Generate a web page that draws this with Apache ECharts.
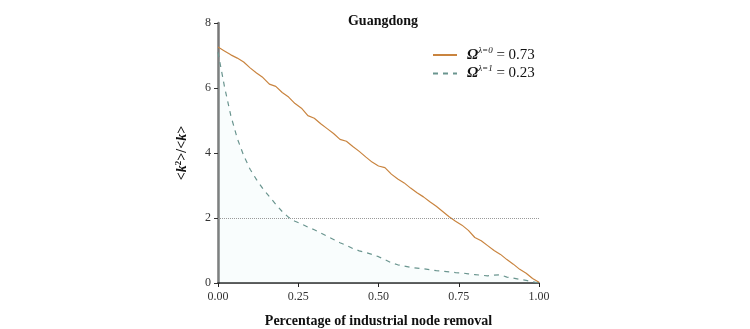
<!DOCTYPE html>
<html><head><meta charset="utf-8">
<script src="https://cdn.jsdelivr.net/npm/echarts@6/dist/echarts.min.js"></script>
<style>html,body{margin:0;padding:0;background:#fff}#c{width:750px;height:329px}</style>
</head><body><div id="c"></div>
<script>
const removalFraction = [0,0.02,0.04,0.06,0.08,0.10,0.12,0.14,0.16,0.18,0.20,0.22,0.24,0.26,0.28,0.30,0.32,0.34,0.36,0.38,0.40,0.42,0.44,0.46,0.48,0.50,0.52,0.54,0.56,0.58,0.60,0.62,0.64,0.66,0.68,0.70,0.72,0.74,0.76,0.78,0.80,0.82,0.84,0.86,0.88,0.90,0.92,0.94,0.96,0.98,1.00];
const lambda0Values = [7.26,7.14,7.02,6.92,6.80,6.62,6.46,6.32,6.12,6.05,5.86,5.72,5.52,5.38,5.15,5.07,4.90,4.75,4.60,4.42,4.36,4.20,4.05,3.88,3.72,3.60,3.55,3.35,3.20,3.08,2.92,2.78,2.65,2.50,2.36,2.20,2.04,1.90,1.78,1.62,1.40,1.30,1.15,1.00,0.88,0.72,0.58,0.42,0.30,0.14,0.02];
const lambda1Values = [7.10,6.05,5.15,4.45,3.92,3.50,3.18,2.90,2.66,2.42,2.20,2.02,1.90,1.82,1.72,1.64,1.54,1.44,1.34,1.24,1.16,1.06,0.99,0.94,0.88,0.81,0.72,0.62,0.56,0.52,0.48,0.46,0.44,0.41,0.38,0.36,0.34,0.32,0.31,0.28,0.26,0.24,0.22,0.24,0.25,0.18,0.15,0.11,0.08,0.04,0.00];
const xTicks = [0, 0.25, 0.5, 0.75, 1.0];
const yTicks = [0, 2, 4, 6, 8];
const threshold = 2;
const seriesNames = ['lambda0', 'lambda1'];
const omegaValues = ['0.73', '0.23'];
const lambdaLabels = ['λ=0', 'λ=1'];

const serif = 'Liberation Serif, Times New Roman, serif';
const chart = echarts.init(document.getElementById('c'));
const pairs = v => removalFraction.map((x, i) => [x, v[i]]);
chart.setOption({
  animation: false,
  title: {
    text: 'Guangdong', left: 378, textAlign: 'center', top: 9,
    textStyle: {fontFamily: serif, fontSize: 14, fontWeight: 'bold', color: '#111'}
  },
  legend: {
    orient: 'vertical', left: 427, top: 41, itemWidth: 24, itemHeight: 10, itemGap: 2,
    data: seriesNames,
    itemStyle: {opacity: 0},
    formatter: name => {
      const i = seriesNames.indexOf(name);
      return '{o|Ω}{s|' + lambdaLabels[i] + '}{t| = ' + omegaValues[i] + '}';
    },
    textStyle: {
      fontFamily: serif, color: '#111', padding: [0, 0, 0, 5],
      rich: {
        o: {fontFamily: serif, fontSize: 15, fontStyle: 'italic', fontWeight: 'bold', color: '#111'},
        s: {fontFamily: serif, fontSize: 9, fontStyle: 'italic', color: '#111', verticalAlign: 'top', padding: [0, 0, 9, 0]},
        t: {fontFamily: serif, fontSize: 15, color: '#111'}
      }
    }
  },
  grid: {left: 218, right: 211, top: 23, bottom: 46, outerBoundsMode: 'none', containLabel: false},
  xAxis: {
    type: 'value', min: 0, max: 1, interval: 0.25,
    name: 'Percentage of industrial node removal', nameLocation: 'middle', nameGap: 31,
    nameTextStyle: {fontFamily: serif, fontSize: 14, fontWeight: 'bold', color: '#111'},
    axisLine: {show: true, onZero: false, lineStyle: {color: '#222', width: 1.5}},
    axisTick: {show: true, length: 4, lineStyle: {color: '#222'}},
    axisLabel: {fontFamily: serif, fontSize: 12, color: '#333', margin: 8,
      formatter: v => xTicks.includes(v) ? v.toFixed(2) : ''},
    splitLine: {show: false}
  },
  yAxis: {
    type: 'value', min: 0, max: 8, interval: 2,
    name: '<{i|k}{s|2}>/<{i|k}>', nameLocation: 'middle', nameGap: 27, nameRotate: 90,
    nameTextStyle: {fontFamily: serif, fontSize: 14, fontWeight: 'bold', color: '#111',
      rich: {
        i: {fontFamily: serif, fontSize: 14, fontWeight: 'bold', fontStyle: 'italic', color: '#111'},
        s: {fontFamily: serif, fontSize: 9, fontWeight: 'bold', color: '#111', verticalAlign: 'top', padding: [0, 0, 8, 0]}
      }},
    axisLine: {show: true, lineStyle: {color: '#777', width: 2.5}},
    axisTick: {show: true, length: 4, lineStyle: {color: '#333'}},
    axisLabel: {fontFamily: serif, fontSize: 12, color: '#333', margin: 7,
      formatter: v => yTicks.includes(v) ? String(v) : ''},
    splitLine: {show: false}
  },
  series: [
    {
      name: seriesNames[0], type: 'line', symbol: 'circle', showSymbol: false, data: pairs(lambda0Values),
      lineStyle: {color: '#c9843f', width: 1.2}, itemStyle: {color: '#c9843f'}, z: 3,
      markLine: {
        silent: true, symbol: 'none', label: {show: false},
        lineStyle: {type: 'dotted', color: '#999', width: 1},
        data: [{yAxis: threshold}]
      }
    },
    {
      name: seriesNames[1], type: 'line', symbol: 'circle', showSymbol: false, data: pairs(lambda1Values),
      lineStyle: {color: '#6a958f', width: 1.2, type: [5, 5]}, itemStyle: {color: '#6a958f'},
      areaStyle: {color: 'rgba(190,232,232,0.12)'}, z: 2
    }
  ]
});
</script></body></html>
